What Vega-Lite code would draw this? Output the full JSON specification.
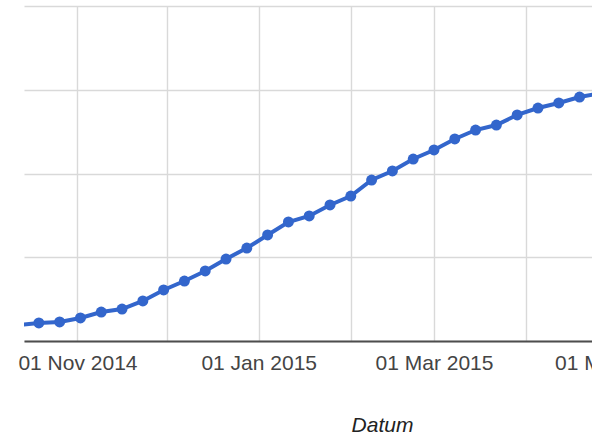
{
  "$schema": "https://vega.github.io/schema/vega-lite/v6.json",
  "autosize": {"type": "none"},
  "padding": {"left": 24, "top": 6, "right": 0, "bottom": 92},
  "width": 716,
  "height": 335,
  "background": "white",
  "config": {
    "view": {"stroke": null},
    "font": "Liberation Sans"
  },
  "data": {
    "values": [
      {"date": "2014-10-12", "value": 19.0},
      {"date": "2014-10-19", "value": 21.5},
      {"date": "2014-10-26", "value": 22.7},
      {"date": "2014-11-02", "value": 27.5},
      {"date": "2014-11-09", "value": 34.6},
      {"date": "2014-11-16", "value": 38.2},
      {"date": "2014-11-23", "value": 47.8},
      {"date": "2014-11-30", "value": 60.9},
      {"date": "2014-12-07", "value": 71.6},
      {"date": "2014-12-14", "value": 83.6},
      {"date": "2014-12-21", "value": 97.9},
      {"date": "2014-12-28", "value": 111.0},
      {"date": "2015-01-04", "value": 126.6},
      {"date": "2015-01-11", "value": 142.1},
      {"date": "2015-01-18", "value": 149.3},
      {"date": "2015-01-25", "value": 162.4},
      {"date": "2015-02-01", "value": 173.1},
      {"date": "2015-02-08", "value": 192.2},
      {"date": "2015-02-15", "value": 203.0},
      {"date": "2015-02-22", "value": 217.3},
      {"date": "2015-03-01", "value": 228.1},
      {"date": "2015-03-08", "value": 241.2},
      {"date": "2015-03-15", "value": 251.9},
      {"date": "2015-03-22", "value": 257.9},
      {"date": "2015-03-29", "value": 269.9},
      {"date": "2015-04-05", "value": 278.2},
      {"date": "2015-04-12", "value": 284.2},
      {"date": "2015-04-19", "value": 291.3},
      {"date": "2015-04-26", "value": 296.0}
    ]
  },
  "encoding": {
    "x": {
      "field": "date",
      "type": "temporal",
      "scale": {"type": "utc", "domain": ["2014-10-14", "2015-06-12"]},
      "axis": {
        "title": "Datum",
        "titleFont": "Liberation Sans",
        "titleFontSize": 21,
        "titleFontStyle": "italic",
        "titleFontWeight": "normal",
        "titleColor": "#222222",
        "titleBaseline": "alphabetic",
        "titleY": 90,
        "values": [
          {"year": 2014, "month": 11, "date": 1, "utc": true},
          {"year": 2014, "month": 12, "date": 1, "utc": true},
          {"year": 2015, "month": 1, "date": 1, "utc": true},
          {"year": 2015, "month": 2, "date": 1, "utc": true},
          {"year": 2015, "month": 3, "date": 1, "utc": true},
          {"year": 2015, "month": 4, "date": 1, "utc": true},
          {"year": 2015, "month": 5, "date": 1, "utc": true},
          {"year": 2015, "month": 6, "date": 1, "utc": true}
        ],
        "labelExpr": "utcmonth(datum.value) % 2 == 0 ? utcFormat(datum.value, '%d %b %Y') : ''",
        "labelFont": "Liberation Sans",
        "labelFontSize": 21,
        "labelColor": "#444444",
        "labelPadding": 11,
        "labelOverlap": false,
        "labelBound": false,
        "labelFlush": false,
        "ticks": false,
        "domainColor": "#4d4d4d",
        "domainWidth": 2,
        "grid": true,
        "gridColor": "#d9d9d9",
        "gridWidth": 1.4
      }
    },
    "y": {
      "field": "value",
      "type": "quantitative",
      "scale": {"domain": [0, 400], "nice": false, "zero": true},
      "axis": {
        "title": null,
        "labels": false,
        "ticks": false,
        "domain": false,
        "values": [0, 100, 200, 300, 400],
        "grid": true,
        "gridColor": "#d9d9d9",
        "gridWidth": 1.4
      }
    }
  },
  "layer": [
    {"mark": {"type": "line", "color": "#3366cc", "strokeWidth": 4, "clip": true}},
    {"mark": {"type": "point", "filled": true, "color": "#3366cc", "opacity": 1, "size": 120, "clip": true}}
  ]
}
